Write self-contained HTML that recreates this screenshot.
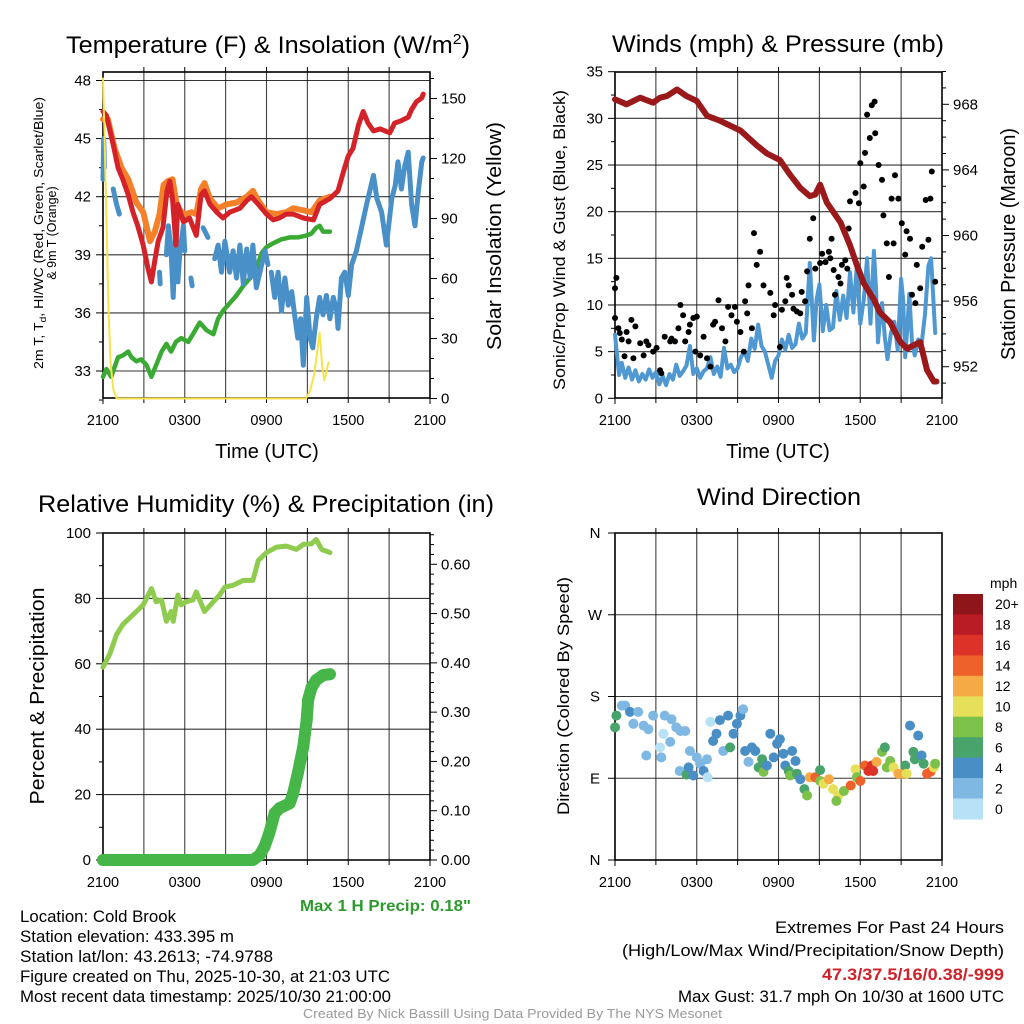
<!DOCTYPE html>
<html><head><meta charset="utf-8"><title>Mesonet Meteogram - Cold Brook</title>
<style>
html,body{margin:0;padding:0;background:#fff;}
svg{display:block;font-family:"Liberation Sans",Arial,sans-serif;}
</style></head>
<body>
<svg id="fig" xmlns="http://www.w3.org/2000/svg" width="1024" height="1024" viewBox="0 0 1024 1024">
<rect x="0" y="0" width="1024" height="1024" fill="#fff"/>
<!-- titles -->
<text x="268" y="53" font-size="24" text-anchor="middle" textLength="404" lengthAdjust="spacingAndGlyphs">Temperature (F) &amp; Insolation (W/m<tspan font-size="15" dy="-9">2</tspan><tspan dy="9">)</tspan></text>
<text x="778" y="52" font-size="24" text-anchor="middle" textLength="332" lengthAdjust="spacingAndGlyphs">Winds (mph) &amp; Pressure (mb)</text>
<text x="266" y="512" font-size="24" text-anchor="middle" textLength="456" lengthAdjust="spacingAndGlyphs">Relative Humidity (%) &amp; Precipitation (in)</text>
<text x="779" y="505" font-size="24" text-anchor="middle" textLength="164" lengthAdjust="spacingAndGlyphs">Wind Direction</text>
<!-- axis titles -->
<text x="267" y="458" font-size="20" text-anchor="middle">Time (UTC)</text>
<text x="778" y="458" font-size="20" text-anchor="middle">Time (UTC)</text>
<text transform="translate(43,233) rotate(-90)" font-size="12.5" text-anchor="middle" textLength="272" lengthAdjust="spacingAndGlyphs">2m T, T<tspan font-size="9" dy="3">d</tspan><tspan dy="-3">, HI/WC (Red, Green, Scarlet/Blue)</tspan></text>
<text transform="translate(56,233) rotate(-90)" font-size="12.5" text-anchor="middle">&amp; 9m T (Orange)</text>
<text transform="translate(501,236) rotate(-90)" font-size="20" text-anchor="middle" textLength="228" lengthAdjust="spacingAndGlyphs">Solar Insolation (Yellow)</text>
<text transform="translate(565,240) rotate(-90)" font-size="17" text-anchor="middle" textLength="300" lengthAdjust="spacingAndGlyphs">Sonic/Prop Wind &amp; Gust (Blue, Black)</text>
<text transform="translate(1015,244) rotate(-90)" font-size="20" text-anchor="middle" textLength="232" lengthAdjust="spacingAndGlyphs">Station Pressure (Maroon)</text>
<text transform="translate(44,696) rotate(-90)" font-size="20" text-anchor="middle" textLength="217" lengthAdjust="spacingAndGlyphs">Percent &amp; Precipitation</text>
<text transform="translate(569,696) rotate(-90)" font-size="17" text-anchor="middle" textLength="238" lengthAdjust="spacingAndGlyphs">Direction (Colored By Speed)</text>
<!-- footer -->
<text x="300" y="911" font-size="16" font-weight="bold" fill="#2e9a2e" textLength="171" lengthAdjust="spacingAndGlyphs">Max 1 H Precip: 0.18"</text>
<g font-size="16.5" fill="#000">
<text x="20" y="922" textLength="156" lengthAdjust="spacingAndGlyphs">Location: Cold Brook</text>
<text x="20" y="942" textLength="214" lengthAdjust="spacingAndGlyphs">Station elevation: 433.395 m</text>
<text x="20" y="962" textLength="253" lengthAdjust="spacingAndGlyphs">Station lat/lon: 43.2613; -74.9788</text>
<text x="20" y="982" textLength="370" lengthAdjust="spacingAndGlyphs">Figure created on Thu, 2025-10-30, at 21:03 UTC</text>
<text x="20" y="1002" textLength="371" lengthAdjust="spacingAndGlyphs">Most recent data timestamp: 2025/10/30 21:00:00</text>
</g>
<g font-size="16.5">
<text x="775" y="933" textLength="229" lengthAdjust="spacingAndGlyphs">Extremes For Past 24 Hours</text>
<text x="622" y="956" textLength="382" lengthAdjust="spacingAndGlyphs">(High/Low/Max Wind/Precipitation/Snow Depth)</text>
<text x="822" y="980" font-weight="bold" fill="#d0222a" textLength="182" lengthAdjust="spacingAndGlyphs">47.3/37.5/16/0.38/-999</text>
<text x="678" y="1002" textLength="326" lengthAdjust="spacingAndGlyphs">Max Gust: 31.7 mph On 10/30 at 1600 UTC</text>
</g>
<text x="303" y="1018" font-size="13" fill="#9a9a9a" textLength="419" lengthAdjust="spacingAndGlyphs">Created By Nick Bassill Using Data Provided By The NYS Mesonet</text>
<text x="990" y="588" font-size="14">mph</text>
</svg>
<script>
// ===== Temperature panel data (hours since 2100 UTC) =====
const tempT=[0,0.25,0.75,1.1,1.45,1.85,2.2,2.55,2.95,3.3,3.55,3.8,4.05,4.4,4.7,4.9,5.1,5.35,5.5,5.9,6.35,6.85,7.2,7.45,7.85,8.35,8.8,9.3,10.05,10.55,10.9,11.4,12.0,12.5,12.95,13.45,13.95,14.7,15.45,15.9,16.65,17.25,17.65,18.0,18.35,18.75,19.1,19.45,19.85,20.35,20.7,21.05,21.4,21.8,22.4,22.65,23.0,23.4,23.5];
const tempV=[46.4,46.2,44.7,43.5,42.9,42.1,41.2,40.5,39.5,38.3,37.6,38.7,39.7,40.4,42.3,42.8,41.9,39.5,41.6,40.7,40.9,40.0,42.1,42.3,41.6,41.2,40.9,41.2,41.4,41.8,42.0,41.6,41.1,40.8,40.9,41.1,41.1,40.9,40.8,41.6,41.9,42.3,43.3,44.1,44.5,45.7,46.4,45.8,45.4,45.5,45.4,45.3,45.8,45.9,46.1,46.5,46.9,47.1,47.3];
const temp9T=[0,0.35,0.85,1.35,1.85,2.45,2.95,3.45,3.8,4.15,4.45,4.75,5.1,5.4,5.75,6.1,6.5,6.85,7.2,7.45,7.85,8.45,9.05,9.8,10.55,11.0,11.4,12.0,12.75,13.45,13.95,14.7,15.3,15.9,16.65];
const temp9V=[46.0,46.0,44.5,43.5,42.9,41.7,41.2,39.7,40.2,41.1,42.6,42.8,42.9,41.6,41.2,41.1,41.2,41.1,42.4,42.7,41.9,41.4,41.6,41.7,42.0,42.3,41.8,41.2,41.1,41.2,41.4,41.3,41.2,41.8,42.0];
const dewT=[0,0.25,0.6,1.1,1.45,1.85,2.1,2.45,2.8,3.2,3.55,3.9,4.3,4.65,5.0,5.35,5.75,6.25,6.6,7.1,7.6,8.1,8.45,8.8,9.3,9.8,10.3,10.8,11.25,11.65,12.0,12.5,13.1,13.7,14.3,14.95,15.3,15.65,15.9,16.15,16.65];
const dewV=[32.7,33.1,32.7,33.7,33.8,34.0,33.7,33.5,33.6,33.3,32.7,33.3,34.0,34.4,34.0,34.5,34.7,34.5,34.9,35.5,35.1,34.9,35.7,36.1,36.5,36.9,37.4,37.8,38.3,39.1,39.4,39.6,39.8,39.9,39.9,40.0,40.1,40.4,40.5,40.2,40.2];
const hiwcT=[0,0.05,0.1,null,0.75,1.0,1.2,null,4.15,4.2,null,4.65,4.8,5.0,5.15,5.35,5.5,5.65,5.9,6.0,null,6.45,6.55,null,7.35,7.7,null,8.2,8.45,8.7,8.95,9.3,9.55,9.8,10.05,10.3,10.55,10.8,11.0,11.25,11.65,11.9,12.1,null,12.35,12.6,12.85,13.1,13.35,13.6,13.85,14.1,14.3,14.5,14.7,14.95,15.2,15.4,15.65,15.9,16.15,16.4,16.65,16.9,17.15,17.25,17.5,17.75,18.0,18.25,18.6,19.0,19.35,19.85,20.1,20.45,20.8,21.2,21.45,21.65,21.9,22.15,22.4,22.65,22.9,23.15,23.4,23.5];
const hiwcV=[42.9,45.0,43.5,null,42.4,41.6,41.1,null,38.1,37.5,null,39.0,40.5,39.2,36.8,40.5,37.6,39.2,40.5,39.2,null,37.8,37.4,null,40.4,39.9,null,38.8,39.5,38.1,39.7,38.1,39.2,37.8,39.5,37.5,39.3,37.8,39.5,37.3,38.5,39.2,38.5,null,38.1,36.8,38.1,36.1,37.8,36.4,37.1,35.7,34.7,35.7,33.3,36.8,34.7,34.2,35.7,36.8,35.9,36.9,35.7,36.8,36.1,35.2,37.8,38.1,36.9,38.5,39.2,40.5,41.6,43.1,41.9,41.2,39.5,41.9,42.6,43.8,42.4,43.6,44.3,41.6,40.5,42.3,43.8,44.0];
const solarT=[0,0.12,0.25,0.4,0.55,0.75,1.0,5,10,14.9,15.2,15.5,15.75,15.9,16.1,16.25,16.55];
const solarV=[160,130,90,45,18,5,0,0,0,0,4,12,25,33,15,9,18];
const tempTicks=[48,45,42,39,36,33];
const solarTicks=[0,30,60,90,120,150];
const timeTicks=['2100','0300','0900','1500','2100'];

// ===== Wind panel data =====
const windT=[0,0.3,0.5,0.75,1,1.25,1.5,1.75,2,2.25,2.5,2.75,3,3.25,3.5,3.75,4,4.25,4.5,4.75,5,5.25,5.5,5.75,6,6.25,6.5,6.75,7,7.25,7.5,7.75,8,8.25,8.5,8.75,9,9.25,9.5,9.75,10,10.25,10.5,10.75,11,11.25,11.5,11.75,12,12.25,12.5,12.75,13,13.25,13.5,13.75,14,14.3,14.6,14.8,15,15.25,15.5,15.75,16,16.25,16.5,16.75,17,17.25,17.5,17.75,18,18.25,18.5,18.75,19,19.15,19.3,19.45,19.6,19.8,20,20.25,20.5,20.75,21,21.15,21.3,21.45,21.6,21.8,22,22.25,22.5,22.75,23,23.2,23.5];
const windV=[6.8,2.5,3.8,2.2,3.3,2.0,3.0,1.8,2.6,2.0,3.1,2.2,2.8,1.5,2.4,1.4,2.6,2.0,3.6,2.4,2.9,3.5,5.6,2.6,3.2,2.2,2.9,3.2,4.4,2.6,3.4,2.3,5.4,3.2,3.6,2.8,3.2,4.4,5.0,4.0,6.4,5.3,7.9,5.6,5.0,3.6,2.2,4.0,4.6,6.3,5.2,6.8,5.4,5.8,8.0,6.4,7.0,14.5,6.2,10.6,12.2,7.2,10.0,7.3,7.6,11.5,8.4,11.0,8.6,13.5,9.2,14.2,8.0,10.5,15.0,8.0,15.8,12.0,6.0,8.5,10.2,6.6,4.2,7.0,8.2,5.2,12.8,10.5,4.4,7.5,11.2,6.0,4.6,6.3,5.8,9.0,14.2,15.0,7.0];
const gustT=[0,0.1,0.0,0.25,0.35,0.5,0.7,0.85,1.0,1.2,1.35,1.5,1.85,2.1,2.3,2.45,2.8,3.05,3.3,3.4,3.65,4.05,4.15,4.4,4.65,4.8,5.0,5.15,5.4,5.5,5.75,5.9,6.0,6.25,6.5,6.75,7.0,7.2,7.35,7.6,7.85,8.1,8.3,8.55,8.8,8.95,9.2,9.45,9.55,9.7,9.8,10.05,10.2,10.4,10.65,10.9,11.4,11.65,11.75,12.1,12.25,12.5,12.6,12.75,13.0,13.1,13.35,13.6,13.7,13.95,14.1,14.3,14.55,14.7,15.05,15.2,15.45,15.7,15.8,15.9,16.05,16.15,16.4,16.55,16.65,16.9,17.05,17.15,17.25,17.65,17.9,18.0,18.25,18.35,18.5,18.7,18.85,19.05,19.1,19.35,19.6,19.7,19.95,20.1,20.3,20.45,20.55,20.8,21.05,21.3,21.4,21.65,21.8,22.05,22.15,22.4,22.55,22.8,23.0,23.15,23.25,23.5];
const gustV=[11.8,12.9,8.6,7.5,7.0,6.3,4.5,7.1,6.1,8.4,4.3,7.7,5.9,4.6,6.1,5.7,5.0,5.4,3.0,2.7,6.6,6.1,6.4,6.1,7.5,10.0,8.9,6.1,7.1,7.9,8.6,5.0,8.75,4.6,6.6,4.3,3.4,7.9,8.2,10.5,7.5,6.1,9.8,8.9,9.8,8.2,7.1,5.0,10.4,9.1,12.1,7.5,17.7,14.3,15.7,12.1,11.3,8.9,10.0,5.5,9.5,10.4,12.9,12.1,11.1,9.6,9.3,9.1,11.4,10.4,13.6,17.1,19.3,13.9,14.5,15.5,14.6,15.7,15.0,17.1,13.75,11.1,13.0,12.3,14.3,14.8,13.9,18.2,21.1,22.0,20.9,25.2,22.7,26.3,30.4,27.9,31.4,31.8,28.4,25.0,23.4,19.6,16.6,13.0,21.4,16.6,23.9,21.4,18.75,15.4,17.9,17.1,11.1,10.2,14.3,11.8,16.25,21.25,17.0,21.4,24.3,12.5];
const presT=[0,0.85,1.85,2.8,3.3,3.8,4.55,5.25,6.0,6.75,7.7,8.2,9.2,10.4,11.15,12.1,12.85,13.6,14.3,14.7,15.05,15.55,16.55,17.25,17.75,18.25,19.0,19.45,20.2,20.95,21.45,21.9,22.4,22.9,23.4,23.6];
const presV=[968.3,968.0,968.4,968.1,968.4,968.5,968.9,968.5,968.2,967.3,967.0,966.8,966.4,965.5,965.0,964.6,963.7,962.9,962.4,962.5,963.1,962.0,960.8,959.4,958.2,957.1,956.1,955.3,954.7,953.5,953.1,953.3,953.5,951.8,951.1,951.1];
const windTicks=[0,5,10,15,20,25,30,35];
const presTicks=[952,956,960,964,968];

// ===== Humidity / precip panel data =====
const rhT=[0,0.5,1.0,1.45,1.95,2.45,2.95,3.55,3.9,4.3,4.65,5.0,5.15,5.5,5.75,6.1,6.6,6.85,7.45,8.1,8.55,8.95,9.55,10.3,11.0,11.4,12.0,12.75,13.45,14.2,14.7,15.3,15.65,16.05,16.65];
const rhV=[59,63,69,72,74,76,78,83,79,79.5,73,76,73,81,78,79,79.5,82,76,79,81,83.5,84,85.5,85.5,91.6,94,95.7,96,95,96.5,96.7,98,95,94];
const precipT=[0,2,4,6,8,10,11.0,11.5,11.85,12.2,12.6,12.95,13.7,13.95,14.3,14.7,14.95,15.05,15.3,15.65,16.15,16.65];
const precipV=[0,0,0,0,0,0,0,0.01,0.027,0.054,0.095,0.105,0.115,0.135,0.176,0.23,0.284,0.325,0.35,0.365,0.375,0.377];
const rhTicks=[0,20,40,60,80,100];
const precipTicks=['0.00','0.10','0.20','0.30','0.40','0.50','0.60'];

// ===== Wind direction panel data =====
const dirT=[0,0.1,0.5,0.75,1.1,1.35,1.7,2.1,2.3,2.45,2.8,3.3,3.4,3.55,3.65,4.05,4.15,4.5,4.8,5.15,5.5,4.75,5.25,5.4,5.75,6.0,6.25,6.5,6.75,6.8,7.0,7.2,7.45,7.7,7.95,8.3,8.45,8.7,8.95,9.2,9.4,9.55,9.8,10.05,10.3,10.55,10.8,10.9,11.15,11.4,11.65,11.9,12.1,12.35,12.5,12.75,12.85,13.0,13.25,13.35,13.6,13.9,14.1,14.3,14.7,15.05,15.05,15.3,15.7,16.0,16.4,16.25,16.8,17.3,17.65,17.75,18.0,18.35,18.6,18.85,18.95,19.2,19.6,19.8,19.95,20.2,20.45,20.8,21.05,21.3,21.4,21.65,21.9,22.0,22.25,22.5,22.65,22.9,23.15,23.4,23.5];
const dirV=[146,159,170,170,163,150,163,148,115,144,159,124,113,139,159,130,155,146,142,142,120,98,94,102,93,113,106,98,111,91,152,131,139,154,120,159,124,139,150,159,166,120,108,124,120,102,111,97,104,139,113,128,133,117,104,98,93,120,109,95,89,78,71,91,91,99,87,84,89,78,71,65,76,82,100,91,87,104,98,104,98,108,119,124,102,109,102,95,95,104,95,148,119,111,137,115,106,95,97,102,106];
const dirSpd=[6,6,2,2,4,2,2,2,2,2,2,0,2,0,2,2,2,2,2,2,2,2,6,4,4,2,2,4,2,0,0,4,4,4,2,4,6,4,4,4,2,4,2,4,4,6,6,8,4,4,4,4,4,4,4,6,8,4,4,6,4,6,8,12,14,6,8,10,12,10,10,8,8,14,10,8,14,14,16,16,16,12,8,6,8,8,10,12,12,6,10,4,6,6,4,4,6,14,14,10,8];
const dirTicks=['N','E','S','W','N'];
const speedLevels=['0','2','4','6','8','10','12','14','16','18','20+'];
const speedColors=['#b7e1f5','#7fb8e3','#4a8ec6','#48a46b','#7cc24a','#e6df5a','#f6aa45','#ef612b','#dc3228','#b91c24','#8e1519'];

// ===== drawing =====
const NS='http://www.w3.org/2000/svg';
const svg=document.getElementById('fig');
function mk(tag,attrs,parent){const e=document.createElementNS(NS,tag);for(const k in attrs)e.setAttribute(k,attrs[k]);(parent||svg).appendChild(e);return e;}
function lin(d0,d1,r0,r1){return v=>r0+(v-d0)/(d1-d0)*(r1-r0);}

const P1={x0:103,x1:430,y0:72,y1:398};
const P2={x0:615,x1:942,y0:72,y1:398};
const P3={x0:103,x1:430,y0:533,y1:860};
const P4={x0:615,x1:942,y0:533,y1:860};
const x1s=lin(0,24,P1.x0,P1.x1), x2s=lin(0,24,P2.x0,P2.x1);
const yTemp=lin(48,33,80.5,371), ySolar=lin(0,150,398.5,98.5);
const yWind=lin(0,35,398.3,71.7), yPres=lin(968,952,104.3,366.7);
const yRH=lin(0,100,860,533), yPrec=lin(0,0.6,860,564.3);
const yDir=lin(0,360,860,533);

function frame(P,name){
  const g=mk('g',{});
  
  
  for(let h=3;h<24;h+=3){
    const x=P.x0+(P.x1-P.x0)*h/24;
    const l=mk('line',{x1:x,x2:x,y1:P.y0,y2:P.y1,stroke:'#111','stroke-width':1.1,'stroke-opacity':0.8},g);
    
    
    for(const [ya,yb] of [[P.y0,P.y0-5],[P.y1,P.y1+5]]){
      const t=mk('line',{x1:x,x2:x,y1:ya,y2:yb,stroke:'#000','stroke-width':1},g);
      
      
    }
  }
  for(const h of [0,24]){
    const x=P.x0+(P.x1-P.x0)*h/24;
    const t=mk('line',{x1:x,x2:x,y1:P.y1,y2:P.y1+6,stroke:'#000','stroke-width':1},g);
    
    
  }
  const r=mk('rect',{x:P.x0,y:P.y0,width:P.x1-P.x0,height:P.y1-P.y0,fill:'none',stroke:'#000','stroke-width':1.6},g);
  
  
  timeTicks.forEach((lab,i)=>{
    const x=P.x0+(P.x1-P.x0)*i/4;
    const t=mk('text',{x:x,y:P.y1+27,'font-size':14.5,'text-anchor':'middle'},g);
    t.textContent=lab;
    
    
  });
  return g;
}
function hgrid(P,y,g){
  const l=mk('line',{x1:P.x0,x2:P.x1,y1:y,y2:y,stroke:'#111','stroke-width':1.1,'stroke-opacity':0.85},g);
  
  
}
function ytick(x,y,len,g,name){
  const t=mk('line',{x1:x,x2:x+len,y1:y,y2:y,stroke:'#000','stroke-width':1},g);
  
  
}
function ylabel(x,y,txt,anchor,g,name){
  const t=mk('text',{x:x,y:y+5,'font-size':15,'text-anchor':anchor},g);
  t.textContent=txt;
  
  
}
function pathD(ts,vs,xs,ys){
  let d='',pen=false;
  for(let i=0;i<ts.length;i++){
    if(ts[i]===null||vs[i]===null){pen=false;continue;}
    d+=(pen?'L':'M')+xs(ts[i]).toFixed(1)+','+ys(vs[i]).toFixed(1);
    pen=true;
  }
  return d;
}
function line(ts,vs,xs,ys,color,w,name,parent){
  const p=mk('path',{d:pathD(ts,vs,xs,ys),fill:'none',stroke:color,'stroke-width':w,'stroke-linejoin':'round','stroke-linecap':'round'},parent);
  
  
  return p;
}

// ---- Panel 1 ----
const g1=frame(P1,'temperature');
tempTicks.forEach(v=>{const y=yTemp(v);hgrid(P1,y,g1);ytick(P1.x0,y,-7,g1,'temperature-y-tick');ylabel(P1.x0-12,y,String(v),'end',g1,'temperature-y-tick-label');});
tempTicks.slice(0,-1).forEach(v=>ytick(P1.x0,yTemp(v-1.5),-4,g1,'temperature-minor-tick'));
ytick(P1.x0,yTemp(31.5+0.001),-4,g1,'temperature-minor-tick');
solarTicks.forEach(v=>{const y=ySolar(v);ytick(P1.x1,y,7,g1,'solar-y-tick');ylabel(P1.x1+11,y,String(v),'start',g1,'solar-y-tick-label');});
for(let v=10;v<=160;v+=10){if(v%30)ytick(P1.x1,ySolar(v),4,g1,'solar-minor-tick');}
line(dewT,dewV,x1s,yTemp,'#3aaa35',4.5,'dewpoint-line',g1);
line(hiwcT,hiwcV,x1s,yTemp,'#4a90c8',5,'heat-index-wind-chill-line',g1);
line(temp9T,temp9V,x1s,yTemp,'#f4812a',6,'temperature-9m-line',g1);
line(tempT,tempV,x1s,yTemp,'#d42229',5,'temperature-2m-line',g1);
line(solarT,solarV,x1s,ySolar,'#f8e24c',2,'solar-insolation-line',g1);

// ---- Panel 2 ----
const g2=frame(P2,'wind');
windTicks.forEach(v=>{const y=yWind(v);if(v>0&&v<35)hgrid(P2,y,g2);ytick(P2.x0,y,-7,g2,'wind-y-tick');ylabel(P2.x0-12,y,String(v),'end',g2,'wind-y-tick-label');});
windTicks.slice(1).forEach(v=>ytick(P2.x0,yWind(v-2.5),-4,g2,'wind-minor-tick'));
presTicks.forEach(v=>{const y=yPres(v);ytick(P2.x1,y,7,g2,'pressure-y-tick');ylabel(P2.x1+11,y,String(v),'start',g2,'pressure-y-tick-label');});
for(let v=951;v<=970;v++){if(v%4)ytick(P2.x1,yPres(v),4,g2,'pressure-minor-tick');}
line(windT,windV,x2s,yWind,'#4f98d2',4,'wind-speed-line',g2);
gustT.forEach((t,i)=>{
  const c=mk('circle',{cx:x2s(t).toFixed(1),cy:yWind(gustV[i]).toFixed(1),r:3,fill:'#000'},g2);
  
  
});
line(presT,presV,x2s,yPres,'#9a1a1c',6,'pressure-line',g2);

// ---- Panel 3 ----
const g3=frame(P3,'humidity');
rhTicks.forEach(v=>{const y=yRH(v);if(v<100)hgrid(P3,y,g3);ytick(P3.x0,y,-7,g3,'humidity-y-tick');ylabel(P3.x0-12,y,String(v),'end',g3,'humidity-y-tick-label');});
rhTicks.slice(1).forEach(v=>ytick(P3.x0,yRH(v-10),-4,g3,'humidity-minor-tick'));
hgrid(P3,yRH(100),g3);
precipTicks.forEach(s=>{const y=yPrec(parseFloat(s));ytick(P3.x1,y,7,g3,'precip-y-tick');ylabel(P3.x1+11,y,s,'start',g3,'precip-y-tick-label');});
for(let k=1;k<=33;k++){if(k%5)ytick(P3.x1,yPrec(k*0.02),4,g3,'precip-minor-tick');}
line(rhT,rhV,x1s,yRH,'#8fcb4f',5,'relative-humidity-line',g3);
line(precipT,precipV,x1s,yPrec,'#46b649',12,'precipitation-line',g3);
precipT.forEach((t,i)=>{
  const c=mk('circle',{cx:x1s(t).toFixed(1),cy:yPrec(precipV[i]).toFixed(1),r:6,fill:'#46b649'},g3);
  
  
});

// ---- Panel 4 ----
const g4=frame(P4,'direction');
dirTicks.forEach((lab,i)=>{const y=yDir(i*90);if(i>0&&i<4)hgrid(P4,y,g4);ytick(P4.x0,y,-7,g4,'direction-y-tick');ylabel(P4.x0-20,y,lab,'middle',g4,'direction-y-tick-label');});
hgrid(P4,yDir(360),g4);
dirT.forEach((t,i)=>{
  const bin=Math.min(10,Math.round(dirSpd[i]/2));
  const c=mk('circle',{cx:x2s(t).toFixed(1),cy:yDir(dirV[i]).toFixed(1),r:5,fill:speedColors[bin]},g4);
  
  
});
// colorbar
const cb=mk('g',{});


const cbTop=594,cbH=225/11;
speedLevels.forEach((lab,i)=>{
  const k=10-i;
  const y=cbTop+i*cbH;
  const r=mk('rect',{x:953,y:y.toFixed(1),width:30,height:(cbH+0.5).toFixed(1),fill:speedColors[k]},cb);
  
  
  const t=mk('text',{x:995,y:(y+cbH/2+5).toFixed(1),'font-size':14},cb);
  t.textContent=speedLevels[k];
  
  
});
</script>
</body></html>
